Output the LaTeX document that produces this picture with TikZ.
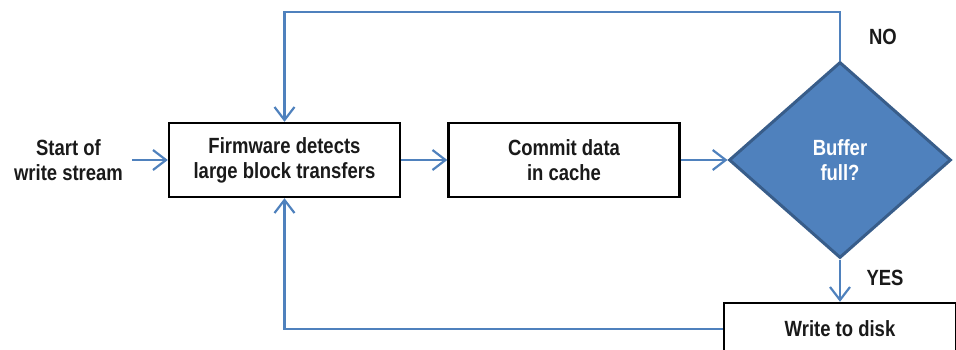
\documentclass[tikz,border=0pt]{standalone}
\usepackage{fontspec}
\setmainfont{Liberation Sans}[FakeStretch=0.84]
\usetikzlibrary{arrows.meta,shapes.geometric}
\definecolor{lblue}{HTML}{4F81BD}
\definecolor{dblue}{HTML}{385D8A}
\definecolor{txt}{HTML}{1A1A1A}
\tikzset{
  conn/.style={draw=lblue, line width=2.2pt, -{Straight Barb[length=13pt,width=20pt,line width=2.2pt]}},
  procbox/.style={draw=black, line width=2.4pt, fill=white, minimum width=231pt, minimum height=74pt, align=center, inner sep=0pt, text=txt},
  lbl/.style={text=txt, align=center},
}
\begin{document}
\begin{tikzpicture}[x=1pt,y=-1pt, every node/.style={font=\fontsize{22}{25}\selectfont\bfseries}]
\useasboundingbox (0,0) rectangle (956,349);
\clip (0,0) rectangle (956,349);
\node[lbl, inner sep=0pt] (start) at (68.5,160) {Start of\\write stream};
\node[procbox] (fw) at (284.5,160) {Firmware detects\\large block transfers};
\node[procbox] (cm) at (564,160) {Commit data\\in cache};
\node[diamond, draw=dblue, fill=lblue, line width=3pt, minimum width=222pt, minimum height=196pt, inner sep=0pt, text=white, align=center] (dia) at (840,160) {Buffer\\full?};
\node[procbox, minimum width=232pt, minimum height=52pt] (wd) at (840,329) {Write to disk};
\node[lbl] (no) at (883,37) {NO};
\node[lbl] (yes) at (885,278) {YES};
\draw[conn, shorten <=9pt] (start.east) -- (fw.west);
\draw[conn] (fw.east) -- (cm.west);
\draw[conn] (cm.east) -- (dia.west);
\draw[conn] (dia.south) -- (wd.north);
\draw[conn] (dia.north) -- (dia.north |- 0,12) -| (fw.north);
\draw[conn] (wd.west) -| (fw.south);
\end{tikzpicture}
\end{document}
